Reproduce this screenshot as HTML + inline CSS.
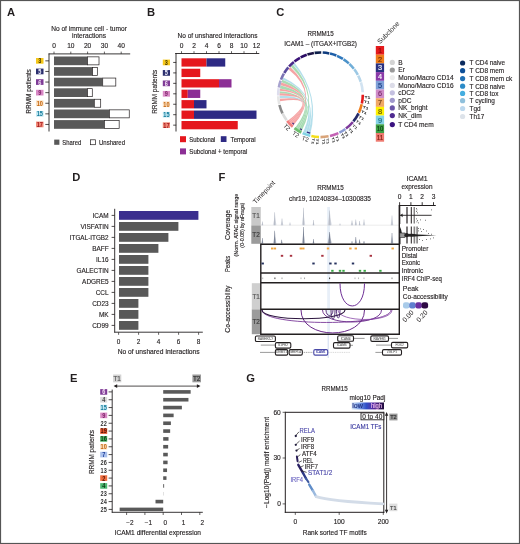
<!DOCTYPE html>
<html><head><meta charset="utf-8"><style>
html,body{margin:0;padding:0;background:#fff;}
#f{position:relative;width:520px;height:544px;overflow:hidden;background:#fff;}
svg{position:absolute;left:0;top:0;will-change:transform;}
svg text{font-family:"Liberation Sans", sans-serif;}
</style></head><body><div id="f">
<svg width="520" height="544" viewBox="0 0 520 544" font-family="Liberation Sans, sans-serif" fill="#231f20">
<rect x="0.5" y="0.5" width="519" height="543" fill="#fff" stroke="#555" stroke-width="1.2"/>
<text x="7.00" y="16.20" font-size="11.2" font-weight="bold">A</text>
<text x="89.00" y="30.70" font-size="6.7" text-anchor="middle" stroke="#231f20" stroke-width="0.14" textLength="75.7" lengthAdjust="spacingAndGlyphs">No of immune cell - tumor</text>
<text x="89.00" y="37.80" font-size="6.7" text-anchor="middle" stroke="#231f20" stroke-width="0.14" textLength="34" lengthAdjust="spacingAndGlyphs">interactions</text>
<text x="54.00" y="48.00" font-size="6.6" text-anchor="middle" stroke="#231f20" stroke-width="0.14">0</text>
<line x1="54.00" y1="51.60" x2="54.00" y2="53.90" stroke="#231f20" stroke-width="0.7"/>
<text x="70.80" y="48.00" font-size="6.6" text-anchor="middle" stroke="#231f20" stroke-width="0.14">10</text>
<line x1="70.80" y1="51.60" x2="70.80" y2="53.90" stroke="#231f20" stroke-width="0.7"/>
<text x="87.60" y="48.00" font-size="6.6" text-anchor="middle" stroke="#231f20" stroke-width="0.14">20</text>
<line x1="87.60" y1="51.60" x2="87.60" y2="53.90" stroke="#231f20" stroke-width="0.7"/>
<text x="104.40" y="48.00" font-size="6.6" text-anchor="middle" stroke="#231f20" stroke-width="0.14">30</text>
<line x1="104.40" y1="51.60" x2="104.40" y2="53.90" stroke="#231f20" stroke-width="0.7"/>
<text x="121.20" y="48.00" font-size="6.6" text-anchor="middle" stroke="#231f20" stroke-width="0.14">40</text>
<line x1="121.20" y1="51.60" x2="121.20" y2="53.90" stroke="#231f20" stroke-width="0.7"/>
<line x1="48.60" y1="53.90" x2="130.20" y2="53.90" stroke="#231f20" stroke-width="0.9"/>
<line x1="49.00" y1="53.50" x2="49.00" y2="131.50" stroke="#231f20" stroke-width="0.9"/>
<rect x="54.00" y="56.50" width="33.60" height="8.70" fill="#595959"/>
<rect x="87.60" y="56.85" width="11.41" height="8.00" fill="#fff" stroke="#231f20" stroke-width="0.7"/>
<line x1="45.30" y1="60.85" x2="49.00" y2="60.85" stroke="#231f20" stroke-width="0.8"/>
<rect x="36.00" y="58.00" width="7.50" height="5.70" fill="#f6c81a"/>
<text x="39.75" y="63.41" font-size="7.2" text-anchor="middle" fill="#4a3a00" font-weight="bold" textLength="3.1" lengthAdjust="spacingAndGlyphs">3</text>
<rect x="54.00" y="67.10" width="38.64" height="8.70" fill="#595959"/>
<rect x="92.64" y="67.45" width="4.69" height="8.00" fill="#fff" stroke="#231f20" stroke-width="0.7"/>
<line x1="45.30" y1="71.45" x2="49.00" y2="71.45" stroke="#231f20" stroke-width="0.8"/>
<rect x="36.00" y="68.60" width="7.50" height="5.70" fill="#2b2f6e"/>
<text x="39.75" y="74.01" font-size="7.2" text-anchor="middle" fill="#f4f4ff" font-weight="bold" textLength="3.1" lengthAdjust="spacingAndGlyphs">5</text>
<rect x="54.00" y="77.70" width="48.72" height="8.70" fill="#595959"/>
<rect x="102.72" y="78.05" width="13.09" height="8.00" fill="#fff" stroke="#231f20" stroke-width="0.7"/>
<line x1="45.30" y1="82.05" x2="49.00" y2="82.05" stroke="#231f20" stroke-width="0.8"/>
<rect x="36.00" y="79.20" width="7.50" height="5.70" fill="#7e3b96"/>
<text x="39.75" y="84.61" font-size="7.2" text-anchor="middle" fill="#f6e2f6" font-weight="bold" textLength="3.1" lengthAdjust="spacingAndGlyphs">6</text>
<rect x="54.00" y="88.30" width="33.60" height="8.70" fill="#595959"/>
<rect x="87.60" y="88.65" width="4.69" height="8.00" fill="#fff" stroke="#231f20" stroke-width="0.7"/>
<line x1="45.30" y1="92.65" x2="49.00" y2="92.65" stroke="#231f20" stroke-width="0.8"/>
<rect x="36.00" y="89.80" width="7.50" height="5.70" fill="#d98ac6"/>
<text x="39.75" y="95.21" font-size="7.2" text-anchor="middle" fill="#7a1f66" font-weight="bold" textLength="3.1" lengthAdjust="spacingAndGlyphs">9</text>
<rect x="54.00" y="98.90" width="40.32" height="8.70" fill="#595959"/>
<rect x="94.32" y="99.25" width="6.37" height="8.00" fill="#fff" stroke="#231f20" stroke-width="0.7"/>
<line x1="45.30" y1="103.25" x2="49.00" y2="103.25" stroke="#231f20" stroke-width="0.8"/>
<rect x="36.00" y="100.40" width="7.50" height="5.70" fill="#fbe0c0"/>
<text x="39.75" y="105.81" font-size="7.2" text-anchor="middle" fill="#c4650e" font-weight="bold" textLength="6.2" lengthAdjust="spacingAndGlyphs">10</text>
<rect x="54.00" y="109.50" width="55.44" height="8.70" fill="#595959"/>
<rect x="109.44" y="109.85" width="19.81" height="8.00" fill="#fff" stroke="#231f20" stroke-width="0.7"/>
<line x1="45.30" y1="113.85" x2="49.00" y2="113.85" stroke="#231f20" stroke-width="0.8"/>
<rect x="36.00" y="111.00" width="7.50" height="5.70" fill="#c4e9f3"/>
<text x="39.75" y="116.41" font-size="7.2" text-anchor="middle" fill="#137a9a" font-weight="bold" textLength="6.2" lengthAdjust="spacingAndGlyphs">15</text>
<rect x="54.00" y="120.10" width="50.40" height="8.70" fill="#595959"/>
<rect x="104.40" y="120.45" width="14.77" height="8.00" fill="#fff" stroke="#231f20" stroke-width="0.7"/>
<line x1="45.30" y1="124.45" x2="49.00" y2="124.45" stroke="#231f20" stroke-width="0.8"/>
<rect x="36.00" y="121.60" width="7.50" height="5.70" fill="#f08a78"/>
<text x="39.75" y="127.01" font-size="7.2" text-anchor="middle" fill="#a3161a" font-weight="bold" textLength="6.2" lengthAdjust="spacingAndGlyphs">17</text>
<text x="30.90" y="91.40" font-size="6.4" text-anchor="middle" stroke="#231f20" stroke-width="0.14" transform="rotate(-90 30.90 91.40)" textLength="44.5" lengthAdjust="spacingAndGlyphs">RRMM patients</text>
<rect x="54.20" y="139.60" width="5.20" height="5.20" fill="#595959"/>
<text x="62.30" y="144.60" font-size="6.6" stroke="#231f20" stroke-width="0.14" textLength="19" lengthAdjust="spacingAndGlyphs">Shared</text>
<rect x="90.60" y="139.80" width="5.00" height="4.90" fill="#fff" stroke="#231f20" stroke-width="0.7"/>
<text x="99.00" y="144.60" font-size="6.6" stroke="#231f20" stroke-width="0.14" textLength="26" lengthAdjust="spacingAndGlyphs">Unshared</text>
<text x="147.00" y="16.20" font-size="11.2" font-weight="bold">B</text>
<text x="217.50" y="37.60" font-size="6.7" text-anchor="middle" stroke="#231f20" stroke-width="0.14" textLength="80" lengthAdjust="spacingAndGlyphs">No of unshared interactions</text>
<text x="181.50" y="48.00" font-size="6.6" text-anchor="middle" stroke="#231f20" stroke-width="0.14">0</text>
<line x1="181.50" y1="51.20" x2="181.50" y2="53.50" stroke="#231f20" stroke-width="0.7"/>
<text x="194.00" y="48.00" font-size="6.6" text-anchor="middle" stroke="#231f20" stroke-width="0.14">2</text>
<line x1="194.00" y1="51.20" x2="194.00" y2="53.50" stroke="#231f20" stroke-width="0.7"/>
<text x="206.50" y="48.00" font-size="6.6" text-anchor="middle" stroke="#231f20" stroke-width="0.14">4</text>
<line x1="206.50" y1="51.20" x2="206.50" y2="53.50" stroke="#231f20" stroke-width="0.7"/>
<text x="219.00" y="48.00" font-size="6.6" text-anchor="middle" stroke="#231f20" stroke-width="0.14">6</text>
<line x1="219.00" y1="51.20" x2="219.00" y2="53.50" stroke="#231f20" stroke-width="0.7"/>
<text x="231.50" y="48.00" font-size="6.6" text-anchor="middle" stroke="#231f20" stroke-width="0.14">8</text>
<line x1="231.50" y1="51.20" x2="231.50" y2="53.50" stroke="#231f20" stroke-width="0.7"/>
<text x="244.00" y="48.00" font-size="6.6" text-anchor="middle" stroke="#231f20" stroke-width="0.14">10</text>
<line x1="244.00" y1="51.20" x2="244.00" y2="53.50" stroke="#231f20" stroke-width="0.7"/>
<text x="256.50" y="48.00" font-size="6.6" text-anchor="middle" stroke="#231f20" stroke-width="0.14">12</text>
<line x1="256.50" y1="51.20" x2="256.50" y2="53.50" stroke="#231f20" stroke-width="0.7"/>
<line x1="175.20" y1="53.50" x2="259.30" y2="53.50" stroke="#231f20" stroke-width="0.9"/>
<line x1="176.00" y1="53.10" x2="176.00" y2="131.50" stroke="#231f20" stroke-width="0.9"/>
<rect x="181.50" y="58.30" width="25.00" height="8.30" fill="#e5171d"/>
<rect x="206.50" y="58.30" width="18.75" height="8.30" fill="#2e2a84"/>
<line x1="173.20" y1="62.45" x2="176.20" y2="62.45" stroke="#231f20" stroke-width="0.8"/>
<rect x="162.80" y="59.60" width="7.20" height="5.70" fill="#f6c81a"/>
<text x="166.40" y="65.01" font-size="7.2" text-anchor="middle" fill="#4a3a00" font-weight="bold" textLength="3.1" lengthAdjust="spacingAndGlyphs">3</text>
<rect x="181.50" y="68.75" width="18.75" height="8.30" fill="#e5171d"/>
<line x1="173.20" y1="72.90" x2="176.20" y2="72.90" stroke="#231f20" stroke-width="0.8"/>
<rect x="162.80" y="70.05" width="7.20" height="5.70" fill="#2b2f6e"/>
<text x="166.40" y="75.46" font-size="7.2" text-anchor="middle" fill="#f4f4ff" font-weight="bold" textLength="3.1" lengthAdjust="spacingAndGlyphs">5</text>
<rect x="181.50" y="79.20" width="37.50" height="8.30" fill="#e5171d"/>
<rect x="219.00" y="79.20" width="12.50" height="8.30" fill="#8c2f95"/>
<line x1="173.20" y1="83.35" x2="176.20" y2="83.35" stroke="#231f20" stroke-width="0.8"/>
<rect x="162.80" y="80.50" width="7.20" height="5.70" fill="#7e3b96"/>
<text x="166.40" y="85.91" font-size="7.2" text-anchor="middle" fill="#f6e2f6" font-weight="bold" textLength="3.1" lengthAdjust="spacingAndGlyphs">6</text>
<rect x="181.50" y="89.65" width="6.25" height="8.30" fill="#e5171d"/>
<rect x="187.75" y="89.65" width="12.50" height="8.30" fill="#8c2f95"/>
<line x1="173.20" y1="93.80" x2="176.20" y2="93.80" stroke="#231f20" stroke-width="0.8"/>
<rect x="162.80" y="90.95" width="7.20" height="5.70" fill="#d98ac6"/>
<text x="166.40" y="96.36" font-size="7.2" text-anchor="middle" fill="#7a1f66" font-weight="bold" textLength="3.1" lengthAdjust="spacingAndGlyphs">9</text>
<rect x="181.50" y="100.10" width="12.50" height="8.30" fill="#e5171d"/>
<rect x="194.00" y="100.10" width="12.50" height="8.30" fill="#2e2a84"/>
<line x1="173.20" y1="104.25" x2="176.20" y2="104.25" stroke="#231f20" stroke-width="0.8"/>
<rect x="162.80" y="101.40" width="7.20" height="5.70" fill="#fbe0c0"/>
<text x="166.40" y="106.81" font-size="7.2" text-anchor="middle" fill="#c4650e" font-weight="bold" textLength="6.2" lengthAdjust="spacingAndGlyphs">10</text>
<rect x="181.50" y="110.55" width="12.50" height="8.30" fill="#e5171d"/>
<rect x="194.00" y="110.55" width="62.50" height="8.30" fill="#2e2a84"/>
<line x1="173.20" y1="114.70" x2="176.20" y2="114.70" stroke="#231f20" stroke-width="0.8"/>
<rect x="162.80" y="111.85" width="7.20" height="5.70" fill="#c4e9f3"/>
<text x="166.40" y="117.26" font-size="7.2" text-anchor="middle" fill="#137a9a" font-weight="bold" textLength="6.2" lengthAdjust="spacingAndGlyphs">15</text>
<rect x="181.50" y="121.00" width="56.25" height="8.30" fill="#e5171d"/>
<line x1="173.20" y1="125.15" x2="176.20" y2="125.15" stroke="#231f20" stroke-width="0.8"/>
<rect x="162.80" y="122.30" width="7.20" height="5.70" fill="#f08a78"/>
<text x="166.40" y="127.71" font-size="7.2" text-anchor="middle" fill="#a3161a" font-weight="bold" textLength="6.2" lengthAdjust="spacingAndGlyphs">17</text>
<text x="157.00" y="91.80" font-size="6.4" text-anchor="middle" stroke="#231f20" stroke-width="0.14" transform="rotate(-90 157.00 91.80)" textLength="44" lengthAdjust="spacingAndGlyphs">RRMM patients</text>
<rect x="180.00" y="136.20" width="6.00" height="6.00" fill="#e5171d"/>
<text x="189.30" y="141.60" font-size="6.6" stroke="#231f20" stroke-width="0.14" textLength="26" lengthAdjust="spacingAndGlyphs">Subclonal</text>
<rect x="220.80" y="136.20" width="5.70" height="5.80" fill="#2e2a84"/>
<text x="230.60" y="141.60" font-size="6.6" stroke="#231f20" stroke-width="0.14" textLength="25" lengthAdjust="spacingAndGlyphs">Temporal</text>
<rect x="180.00" y="148.40" width="6.00" height="6.00" fill="#8c2f95"/>
<text x="189.30" y="153.80" font-size="6.6" stroke="#231f20" stroke-width="0.14" textLength="58" lengthAdjust="spacingAndGlyphs">Subclonal + temporal</text>
<text x="276.20" y="16.20" font-size="11.2" font-weight="bold">C</text>
<text x="320.60" y="36.00" font-size="6.7" text-anchor="middle" stroke="#231f20" stroke-width="0.14" textLength="26.4" lengthAdjust="spacingAndGlyphs">RRMM15</text>
<text x="320.60" y="46.00" font-size="6.7" text-anchor="middle" stroke="#231f20" stroke-width="0.14" textLength="72.6" lengthAdjust="spacingAndGlyphs">ICAM1 – (ITGAX+ITGB2)</text>
<path d="M293.07,64.33 A41.0,41.0 0 0 1 294.70,62.94 Q320.50,94.80 310.23,134.49 A41.0,41.0 0 0 1 307.83,133.79 Q320.50,94.80 293.07,64.33Z" fill="#9fd6e6" fill-opacity="0.78" stroke="none"/>
<path d="M282.49,79.44 A41.0,41.0 0 0 1 283.34,77.47 Q320.50,94.80 307.83,133.79 A41.0,41.0 0 0 1 305.47,132.95 Q320.50,94.80 282.49,79.44Z" fill="#9fd6e6" fill-opacity="0.78" stroke="none"/>
<path d="M279.66,98.37 A41.0,41.0 0 0 1 279.51,95.87 Q320.50,94.80 305.47,132.95 A41.0,41.0 0 0 1 303.17,131.96 Q320.50,94.80 279.66,98.37Z" fill="#9fd6e6" fill-opacity="0.78" stroke="none"/>
<path d="M290.76,66.58 A41.0,41.0 0 0 1 292.80,64.57 Q320.50,94.80 301.57,131.17 A41.0,41.0 0 0 1 300.00,130.31 Q320.50,94.80 290.76,66.58Z" fill="#8fd19e" fill-opacity="0.78" stroke="none"/>
<path d="M281.51,82.13 A41.0,41.0 0 0 1 282.35,79.77 Q320.50,94.80 300.00,130.31 A41.0,41.0 0 0 1 298.47,129.38 Q320.50,94.80 281.51,82.13Z" fill="#8fd19e" fill-opacity="0.78" stroke="none"/>
<path d="M280.00,88.39 A41.0,41.0 0 0 1 280.55,85.58 Q320.50,94.80 298.47,129.38 A41.0,41.0 0 0 1 296.98,128.39 Q320.50,94.80 280.00,88.39Z" fill="#8fd19e" fill-opacity="0.78" stroke="none"/>
<path d="M279.52,93.37 A41.0,41.0 0 0 1 279.66,91.23 Q320.50,94.80 296.98,128.39 A41.0,41.0 0 0 1 295.54,127.33 Q320.50,94.80 279.52,93.37Z" fill="#8fd19e" fill-opacity="0.78" stroke="none"/>
<path d="M288.41,69.28 A41.0,41.0 0 0 1 290.27,67.10 Q320.50,94.80 293.33,125.51 A41.0,41.0 0 0 1 292.28,124.54 Q320.50,94.80 288.41,69.28Z" fill="#f28b8b" fill-opacity="0.78" stroke="none"/>
<path d="M280.63,85.23 A41.0,41.0 0 0 1 281.40,82.47 Q320.50,94.80 292.28,124.54 A41.0,41.0 0 0 1 291.26,123.54 Q320.50,94.80 280.63,85.23Z" fill="#f28b8b" fill-opacity="0.78" stroke="none"/>
<path d="M279.69,90.87 A41.0,41.0 0 0 1 279.95,88.74 Q320.50,94.80 291.26,123.54 A41.0,41.0 0 0 1 290.27,122.50 Q320.50,94.80 279.69,90.87Z" fill="#f28b8b" fill-opacity="0.78" stroke="none"/>
<path d="M279.51,95.52 A41.0,41.0 0 0 1 279.52,93.37 Q320.50,94.80 290.27,122.50 A41.0,41.0 0 0 1 289.32,121.43 Q320.50,94.80 279.51,95.52Z" fill="#f28b8b" fill-opacity="0.78" stroke="none"/>
<path d="M280.00,101.21 A41.0,41.0 0 0 1 279.69,98.73 Q320.50,94.80 289.32,121.43 A41.0,41.0 0 0 1 288.41,120.32 Q320.50,94.80 280.00,101.21Z" fill="#f28b8b" fill-opacity="0.78" stroke="none"/>
<path d="M362.80,94.80 A42.3,42.3 0 0 1 361.88,103.59" fill="none" stroke="#e41a1c" stroke-width="2.6"/>
<path d="M361.72,104.32 A42.3,42.3 0 0 1 358.84,112.68" fill="none" stroke="#f07d1a" stroke-width="2.6"/>
<path d="M358.52,113.34 A42.3,42.3 0 0 1 353.37,121.42" fill="none" stroke="#252a6a" stroke-width="2.6"/>
<path d="M352.90,121.99 A42.3,42.3 0 0 1 345.96,128.58" fill="none" stroke="#7e3a9c" stroke-width="2.6"/>
<path d="M345.36,129.02 A42.3,42.3 0 0 1 339.37,132.66" fill="none" stroke="#8a9cd4" stroke-width="2.6"/>
<path d="M338.38,133.14 A42.3,42.3 0 0 1 330.02,136.02" fill="none" stroke="#c462b4" stroke-width="2.6"/>
<path d="M328.57,136.32 A42.3,42.3 0 0 1 320.50,137.10" fill="none" stroke="#d9a479" stroke-width="2.6"/>
<path d="M319.02,137.07 A42.3,42.3 0 0 1 311.34,136.10" fill="none" stroke="#f5df1c" stroke-width="2.6"/>
<path d="M310.27,135.84 A42.3,42.3 0 0 1 302.62,133.14" fill="none" stroke="#82d3e3" stroke-width="2.6"/>
<path d="M301.30,132.49 A42.3,42.3 0 0 1 294.46,128.13" fill="none" stroke="#6fc06f" stroke-width="2.6"/>
<path d="M292.75,126.72 A42.3,42.3 0 0 1 287.17,120.84" fill="none" stroke="#f08080" stroke-width="2.6"/>
<path d="M286.72,120.26 A42.3,42.3 0 0 1 282.64,113.67" fill="none" stroke="#dcdcdc" stroke-width="2.6"/>
<path d="M282.48,113.34 A42.3,42.3 0 0 1 279.46,105.03" fill="none" stroke="#8a8a8a" stroke-width="2.6"/>
<path d="M279.28,104.32 A42.3,42.3 0 0 1 278.23,96.28" fill="none" stroke="#e6e6e6" stroke-width="2.6"/>
<path d="M278.21,95.54 A42.3,42.3 0 0 1 278.72,88.18" fill="none" stroke="#dddded" stroke-width="2.6"/>
<path d="M278.84,87.45 A42.3,42.3 0 0 1 280.63,80.68" fill="none" stroke="#a8a3cf" stroke-width="2.6"/>
<path d="M281.01,79.64 A42.3,42.3 0 0 1 283.87,73.65" fill="none" stroke="#7b74b4" stroke-width="2.6"/>
<path d="M284.24,73.01 A42.3,42.3 0 0 1 288.33,67.33" fill="none" stroke="#5a4c9e" stroke-width="2.6"/>
<path d="M289.06,66.50 A42.3,42.3 0 0 1 293.88,61.93" fill="none" stroke="#4a2a8a" stroke-width="2.6"/>
<path d="M294.46,61.47 A42.3,42.3 0 0 1 299.99,57.80" fill="none" stroke="#3b1478" stroke-width="2.6"/>
<path d="M300.64,57.45 A42.3,42.3 0 0 1 306.73,54.80" fill="none" stroke="#2b0c64" stroke-width="2.6"/>
<path d="M307.43,54.57 A42.3,42.3 0 0 1 313.88,53.02" fill="none" stroke="#1c1545" stroke-width="2.6"/>
<path d="M314.61,52.91 A42.3,42.3 0 0 1 321.24,52.51" fill="none" stroke="#0d1f4a" stroke-width="2.6"/>
<path d="M322.71,52.56 A42.3,42.3 0 0 1 329.29,53.42" fill="none" stroke="#0e3b7d" stroke-width="2.6"/>
<path d="M330.02,53.58 A42.3,42.3 0 0 1 336.35,55.58" fill="none" stroke="#1d5ea8" stroke-width="2.6"/>
<path d="M337.03,55.86 A42.3,42.3 0 0 1 342.92,58.93" fill="none" stroke="#2f78bd" stroke-width="2.6"/>
<path d="M343.54,59.32 A42.3,42.3 0 0 1 348.80,63.36" fill="none" stroke="#4b92c9" stroke-width="2.6"/>
<path d="M349.35,63.86 A42.3,42.3 0 0 1 353.83,68.76" fill="none" stroke="#70aed8" stroke-width="2.6"/>
<path d="M354.28,69.34 A42.3,42.3 0 0 1 357.85,74.94" fill="none" stroke="#9cc8e4" stroke-width="2.6"/>
<path d="M358.19,75.60 A42.3,42.3 0 0 1 360.73,81.73" fill="none" stroke="#b7d6ea" stroke-width="2.6"/>
<path d="M360.95,82.43 A42.3,42.3 0 0 1 362.72,92.22" fill="none" stroke="#d2e3f1" stroke-width="2.6"/>
<path d="M293.94,124.30 A39.699999999999996,39.699999999999996 0 0 1 292.43,122.87" fill="none" stroke="#3b2a80" stroke-width="1.2"/>
<path d="M301.86,129.85 A39.699999999999996,39.699999999999996 0 0 1 300.05,128.83" fill="none" stroke="#3b2a80" stroke-width="1.2"/>
<path d="M310.22,133.15 A39.699999999999996,39.699999999999996 0 0 1 306.92,132.11" fill="none" stroke="#2e2a84" stroke-width="1.2"/>
<text x="0" y="0" font-size="4.4" fill="#222" stroke="#222" stroke-width="0.15" transform="translate(364.44,97.10) rotate(3.0) scale(1.15,0.72) translate(0,1.6)">T1</text>
<text x="0" y="0" font-size="4.4" fill="#222" stroke="#222" stroke-width="0.15" transform="translate(363.96,101.68) rotate(9.0) scale(1.15,0.72) translate(0,1.6)">T1</text>
<text x="0" y="0" font-size="4.4" fill="#222" stroke="#222" stroke-width="0.15" transform="translate(362.80,106.93) rotate(16.0) scale(1.15,0.72) translate(0,1.6)">T1</text>
<text x="0" y="0" font-size="4.4" fill="#222" stroke="#222" stroke-width="0.15" transform="translate(361.30,111.28) rotate(22.0) scale(1.15,0.72) translate(0,1.6)">T1</text>
<text x="0" y="0" font-size="4.4" fill="#222" stroke="#222" stroke-width="0.15" transform="translate(358.80,116.47) rotate(29.5) scale(1.15,0.72) translate(0,1.6)">T1</text>
<text x="0" y="0" font-size="4.4" fill="#222" stroke="#222" stroke-width="0.15" transform="translate(356.10,120.66) rotate(36.0) scale(1.15,0.72) translate(0,1.6)">T1</text>
<text x="0" y="0" font-size="4.4" fill="#222" stroke="#222" stroke-width="0.15" transform="translate(352.68,124.81) rotate(43.0) scale(1.15,0.72) translate(0,1.6)">T1</text>
<text x="0" y="0" font-size="4.4" fill="#222" stroke="#222" stroke-width="0.15" transform="translate(348.78,128.51) rotate(50.0) scale(1.15,0.72) translate(0,1.6)">T1</text>
<text x="0" y="0" font-size="4.4" fill="#222" stroke="#222" stroke-width="0.15" transform="translate(344.79,131.49) rotate(56.5) scale(1.15,0.72) translate(0,1.6)">T1</text>
<text x="0" y="0" font-size="4.4" fill="#222" stroke="#222" stroke-width="0.15" transform="translate(341.49,133.47) rotate(61.5) scale(1.15,0.72) translate(0,1.6)">T1</text>
<text x="0" y="0" font-size="4.4" fill="#222" stroke="#222" stroke-width="0.15" transform="translate(336.27,135.88) rotate(69.0) scale(1.15,0.72) translate(0,1.6)">T1</text>
<text x="0" y="0" font-size="4.4" fill="#222" stroke="#222" stroke-width="0.15" transform="translate(332.63,137.10) rotate(74.0) scale(1.15,0.72) translate(0,1.6)">T1</text>
<text x="0" y="0" font-size="4.4" fill="#222" stroke="#222" stroke-width="0.15" transform="translate(327.08,138.31) rotate(81.4) scale(1.15,0.72) translate(0,1.6)">T1</text>
<text x="0" y="0" font-size="4.4" fill="#222" stroke="#222" stroke-width="0.15" transform="translate(323.49,138.70) rotate(86.1) scale(1.15,0.72) translate(0,1.6)">T1</text>
<text x="0" y="0" font-size="4.4" fill="#222" stroke="#222" stroke-width="0.15" transform="translate(317.51,138.70) rotate(93.9) scale(1.15,0.72) translate(0,1.6)">T1</text>
<text x="0" y="0" font-size="4.4" fill="#222" stroke="#222" stroke-width="0.15" transform="translate(313.69,138.27) rotate(98.9) scale(1.15,0.72) translate(0,1.6)">T1</text>
<text x="0" y="0" font-size="6.0" fill="#2a2a2a" text-anchor="middle" transform="translate(305.31,138.92) rotate(19.0) translate(0,2.16)">T2</text>
<text x="0" y="0" font-size="6.0" fill="#2a2a2a" text-anchor="middle" transform="translate(295.77,134.37) rotate(32.0) translate(0,2.16)">T2</text>
<text x="0" y="0" font-size="6.0" fill="#2a2a2a" text-anchor="middle" transform="translate(286.94,127.21) rotate(46.0) translate(0,2.16)">T2</text>
<text x="0" y="0" font-size="6.8" fill="#333" transform="translate(380.0,44.2) rotate(-45)">Subclone</text>
<rect x="375.80" y="46.00" width="8.30" height="8.70" fill="#e41a1c"/>
<text x="380.00" y="52.90" font-size="7.4" text-anchor="middle" fill="#8a0a0c" stroke="#8a0a0c" stroke-width="0.14">1</text>
<rect x="375.80" y="54.70" width="8.30" height="8.70" fill="#f07d1a"/>
<text x="380.00" y="61.60" font-size="7.4" text-anchor="middle" fill="#6a2a00" stroke="#6a2a00" stroke-width="0.14">2</text>
<rect x="375.80" y="63.40" width="8.30" height="8.70" fill="#2a3180"/>
<text x="380.00" y="70.30" font-size="7.4" text-anchor="middle" fill="#ffffff" stroke="#ffffff" stroke-width="0.14">3</text>
<rect x="375.80" y="72.10" width="8.30" height="8.70" fill="#8a3aa8"/>
<text x="380.00" y="79.00" font-size="7.4" text-anchor="middle" fill="#ffffff" stroke="#ffffff" stroke-width="0.14">4</text>
<rect x="375.80" y="80.80" width="8.30" height="8.70" fill="#7fa0d8"/>
<text x="380.00" y="87.70" font-size="7.4" text-anchor="middle" fill="#1a3a80" stroke="#1a3a80" stroke-width="0.14">5</text>
<rect x="375.80" y="89.50" width="8.30" height="8.70" fill="#cf8cc8"/>
<text x="380.00" y="96.40" font-size="7.4" text-anchor="middle" fill="#7a2a6a" stroke="#7a2a6a" stroke-width="0.14">6</text>
<rect x="375.80" y="98.20" width="8.30" height="8.70" fill="#f0a866"/>
<text x="380.00" y="105.10" font-size="7.4" text-anchor="middle" fill="#6a3a10" stroke="#6a3a10" stroke-width="0.14">7</text>
<rect x="375.80" y="106.90" width="8.30" height="8.70" fill="#fff200"/>
<text x="380.00" y="113.80" font-size="7.4" text-anchor="middle" fill="#5a5000" stroke="#5a5000" stroke-width="0.14">8</text>
<rect x="375.80" y="115.60" width="8.30" height="8.70" fill="#86d4e6"/>
<text x="380.00" y="122.50" font-size="7.4" text-anchor="middle" fill="#1a6a80" stroke="#1a6a80" stroke-width="0.14">9</text>
<rect x="375.80" y="124.30" width="8.30" height="8.70" fill="#3d9e44"/>
<text x="380.00" y="131.20" font-size="7.4" text-anchor="middle" fill="#0a3a10" stroke="#0a3a10" stroke-width="0.14" textLength="6.6" lengthAdjust="spacingAndGlyphs">10</text>
<rect x="375.80" y="133.00" width="8.30" height="8.70" fill="#ee7a70"/>
<text x="380.00" y="139.90" font-size="7.4" text-anchor="middle" fill="#7a1a10" stroke="#7a1a10" stroke-width="0.14" textLength="6.6" lengthAdjust="spacingAndGlyphs">11</text>
<circle cx="392.3" cy="62.40" r="2.6" fill="#d4d4d4"/>
<text x="398.30" y="64.80" font-size="6.9" stroke="#231f20" stroke-width="0.14" textLength="4.4" lengthAdjust="spacingAndGlyphs">B</text>
<circle cx="392.3" cy="70.00" r="2.6" fill="#999999"/>
<text x="398.30" y="72.40" font-size="6.9" stroke="#231f20" stroke-width="0.14" textLength="6.59" lengthAdjust="spacingAndGlyphs">Er</text>
<circle cx="392.3" cy="77.60" r="2.6" fill="#ececec"/>
<text x="398.30" y="80.00" font-size="6.9" stroke="#231f20" stroke-width="0.14" textLength="55.3" lengthAdjust="spacingAndGlyphs">Mono/Macro CD14</text>
<circle cx="392.3" cy="85.40" r="2.6" fill="#dcdce8"/>
<text x="398.30" y="87.80" font-size="6.9" stroke="#231f20" stroke-width="0.14" textLength="55.3" lengthAdjust="spacingAndGlyphs">Mono/Macro CD16</text>
<circle cx="392.3" cy="92.80" r="2.6" fill="#c4c0e0"/>
<text x="398.30" y="95.20" font-size="6.9" stroke="#231f20" stroke-width="0.14" textLength="16.48" lengthAdjust="spacingAndGlyphs">cDC2</text>
<circle cx="392.3" cy="100.30" r="2.6" fill="#a098cc"/>
<text x="398.30" y="102.70" font-size="6.9" stroke="#231f20" stroke-width="0.14" textLength="13.18" lengthAdjust="spacingAndGlyphs">pDC</text>
<circle cx="392.3" cy="107.90" r="2.6" fill="#6b56a8"/>
<text x="398.30" y="110.30" font-size="6.9" stroke="#231f20" stroke-width="0.14" textLength="29.3" lengthAdjust="spacingAndGlyphs">NK_bright</text>
<circle cx="392.3" cy="115.60" r="2.6" fill="#4e2a90"/>
<text x="398.30" y="118.00" font-size="6.9" stroke="#231f20" stroke-width="0.14" textLength="23.44" lengthAdjust="spacingAndGlyphs">NK_dim</text>
<circle cx="392.3" cy="124.60" r="2.6" fill="#3a1280"/>
<text x="398.30" y="127.00" font-size="6.9" stroke="#231f20" stroke-width="0.14" textLength="35.39" lengthAdjust="spacingAndGlyphs">T CD4 mem</text>
<circle cx="462.6" cy="63.00" r="2.6" fill="#0b2a5e"/>
<text x="469.60" y="65.40" font-size="6.9" stroke="#231f20" stroke-width="0.14" textLength="35.55" lengthAdjust="spacingAndGlyphs">T CD4 naive</text>
<circle cx="462.6" cy="70.70" r="2.6" fill="#0d4f98"/>
<text x="469.60" y="73.10" font-size="6.9" stroke="#231f20" stroke-width="0.14" textLength="34.47" lengthAdjust="spacingAndGlyphs">T CD8 mem</text>
<circle cx="462.6" cy="78.60" r="2.6" fill="#1f6fb4"/>
<text x="469.60" y="81.00" font-size="6.9" stroke="#231f20" stroke-width="0.14" textLength="42.67" lengthAdjust="spacingAndGlyphs">T CD8 mem ck</text>
<circle cx="462.6" cy="86.20" r="2.6" fill="#2b8bc8"/>
<text x="469.60" y="88.60" font-size="6.9" stroke="#231f20" stroke-width="0.14" textLength="35.55" lengthAdjust="spacingAndGlyphs">T CD8 naive</text>
<circle cx="462.6" cy="93.40" r="2.6" fill="#45aee0"/>
<text x="469.60" y="95.80" font-size="6.9" stroke="#231f20" stroke-width="0.14" textLength="28.77" lengthAdjust="spacingAndGlyphs">T CD8 tox</text>
<circle cx="462.6" cy="100.70" r="2.6" fill="#8fc0dc"/>
<text x="469.60" y="103.10" font-size="6.9" stroke="#231f20" stroke-width="0.14" textLength="25.2" lengthAdjust="spacingAndGlyphs">T cycling</text>
<circle cx="462.6" cy="108.50" r="2.6" fill="#bcd8ee"/>
<text x="469.60" y="110.90" font-size="6.9" stroke="#231f20" stroke-width="0.14" textLength="11.06" lengthAdjust="spacingAndGlyphs">Tgd</text>
<circle cx="462.6" cy="116.50" r="2.6" fill="#dde3ea"/>
<text x="469.60" y="118.90" font-size="6.9" stroke="#231f20" stroke-width="0.14" textLength="14.63" lengthAdjust="spacingAndGlyphs">Th17</text>
<text x="72.30" y="181.20" font-size="11.2" font-weight="bold">D</text>
<rect x="119.00" y="211.00" width="79.40" height="8.80" fill="#3b2e8e"/>
<line x1="111.60" y1="215.40" x2="114.70" y2="215.40" stroke="#231f20" stroke-width="0.8"/>
<text x="108.60" y="217.70" font-size="6.45" text-anchor="end" stroke="#231f20" stroke-width="0.14">ICAM</text>
<rect x="119.00" y="222.00" width="59.40" height="8.80" fill="#595959"/>
<line x1="111.60" y1="226.40" x2="114.70" y2="226.40" stroke="#231f20" stroke-width="0.8"/>
<text x="108.60" y="228.70" font-size="6.45" text-anchor="end" stroke="#231f20" stroke-width="0.14">VISFATIN</text>
<rect x="119.00" y="233.00" width="49.40" height="8.80" fill="#595959"/>
<line x1="111.60" y1="237.40" x2="114.70" y2="237.40" stroke="#231f20" stroke-width="0.8"/>
<text x="108.60" y="239.70" font-size="6.45" text-anchor="end" stroke="#231f20" stroke-width="0.14" textLength="38.8" lengthAdjust="spacingAndGlyphs">ITGAL-ITGB2</text>
<rect x="119.00" y="244.00" width="39.40" height="8.80" fill="#595959"/>
<line x1="111.60" y1="248.40" x2="114.70" y2="248.40" stroke="#231f20" stroke-width="0.8"/>
<text x="108.60" y="250.70" font-size="6.45" text-anchor="end" stroke="#231f20" stroke-width="0.14">BAFF</text>
<rect x="119.00" y="255.00" width="29.40" height="8.80" fill="#595959"/>
<line x1="111.60" y1="259.40" x2="114.70" y2="259.40" stroke="#231f20" stroke-width="0.8"/>
<text x="108.60" y="261.70" font-size="6.45" text-anchor="end" stroke="#231f20" stroke-width="0.14">IL16</text>
<rect x="119.00" y="266.00" width="29.40" height="8.80" fill="#595959"/>
<line x1="111.60" y1="270.40" x2="114.70" y2="270.40" stroke="#231f20" stroke-width="0.8"/>
<text x="108.60" y="272.70" font-size="6.45" text-anchor="end" stroke="#231f20" stroke-width="0.14">GALECTIN</text>
<rect x="119.00" y="277.00" width="29.40" height="8.80" fill="#595959"/>
<line x1="111.60" y1="281.40" x2="114.70" y2="281.40" stroke="#231f20" stroke-width="0.8"/>
<text x="108.60" y="283.70" font-size="6.45" text-anchor="end" stroke="#231f20" stroke-width="0.14">ADGRE5</text>
<rect x="119.00" y="288.00" width="29.40" height="8.80" fill="#595959"/>
<line x1="111.60" y1="292.40" x2="114.70" y2="292.40" stroke="#231f20" stroke-width="0.8"/>
<text x="108.60" y="294.70" font-size="6.45" text-anchor="end" stroke="#231f20" stroke-width="0.14">CCL</text>
<rect x="119.00" y="299.00" width="19.40" height="8.80" fill="#595959"/>
<line x1="111.60" y1="303.40" x2="114.70" y2="303.40" stroke="#231f20" stroke-width="0.8"/>
<text x="108.60" y="305.70" font-size="6.45" text-anchor="end" stroke="#231f20" stroke-width="0.14">CD23</text>
<rect x="119.00" y="310.00" width="19.40" height="8.80" fill="#595959"/>
<line x1="111.60" y1="314.40" x2="114.70" y2="314.40" stroke="#231f20" stroke-width="0.8"/>
<text x="108.60" y="316.70" font-size="6.45" text-anchor="end" stroke="#231f20" stroke-width="0.14">MK</text>
<rect x="119.00" y="321.00" width="19.40" height="8.80" fill="#595959"/>
<line x1="111.60" y1="325.40" x2="114.70" y2="325.40" stroke="#231f20" stroke-width="0.8"/>
<text x="108.60" y="327.70" font-size="6.45" text-anchor="end" stroke="#231f20" stroke-width="0.14">CD99</text>
<line x1="114.70" y1="208.80" x2="114.70" y2="332.60" stroke="#231f20" stroke-width="0.9"/>
<line x1="114.30" y1="332.20" x2="202.80" y2="332.20" stroke="#231f20" stroke-width="0.9"/>
<line x1="118.60" y1="332.30" x2="118.60" y2="334.80" stroke="#231f20" stroke-width="0.7"/>
<text x="118.60" y="343.50" font-size="6.4" text-anchor="middle" stroke="#231f20" stroke-width="0.14">0</text>
<line x1="138.60" y1="332.30" x2="138.60" y2="334.80" stroke="#231f20" stroke-width="0.7"/>
<text x="138.60" y="343.50" font-size="6.4" text-anchor="middle" stroke="#231f20" stroke-width="0.14">2</text>
<line x1="158.60" y1="332.30" x2="158.60" y2="334.80" stroke="#231f20" stroke-width="0.7"/>
<text x="158.60" y="343.50" font-size="6.4" text-anchor="middle" stroke="#231f20" stroke-width="0.14">4</text>
<line x1="178.60" y1="332.30" x2="178.60" y2="334.80" stroke="#231f20" stroke-width="0.7"/>
<text x="178.60" y="343.50" font-size="6.4" text-anchor="middle" stroke="#231f20" stroke-width="0.14">6</text>
<line x1="198.60" y1="332.30" x2="198.60" y2="334.80" stroke="#231f20" stroke-width="0.7"/>
<text x="198.60" y="343.50" font-size="6.4" text-anchor="middle" stroke="#231f20" stroke-width="0.14">8</text>
<text x="158.70" y="354.30" font-size="6.6" text-anchor="middle" stroke="#231f20" stroke-width="0.14" textLength="82" lengthAdjust="spacingAndGlyphs">No of unshared interactions</text>
<text x="69.90" y="382.40" font-size="11.2" font-weight="bold">E</text>
<rect x="113.10" y="374.50" width="8.20" height="7.80" fill="#d4d4d4"/>
<text x="117.20" y="380.90" font-size="6.4" text-anchor="middle" fill="#555" stroke="#555" stroke-width="0.14">T1</text>
<rect x="192.40" y="374.50" width="8.60" height="7.80" fill="#9a9a9a"/>
<text x="196.70" y="380.90" font-size="6.4" text-anchor="middle" fill="#2a2a2a" stroke="#2a2a2a" stroke-width="0.14">T2</text>
<line x1="115.50" y1="386.10" x2="198.60" y2="386.10" stroke="#231f20" stroke-width="0.8"/>
<path d="M113.6,386.1 L117.2,384.3 L117.2,387.9 Z" fill="#231f20" stroke="none" stroke-width="0.8"/>
<path d="M200.5,386.1 L196.9,384.3 L196.9,387.9 Z" fill="#231f20" stroke="none" stroke-width="0.8"/>
<rect x="163.20" y="390.10" width="27.45" height="3.60" fill="#595959"/>
<line x1="108.60" y1="391.90" x2="112.20" y2="391.90" stroke="#231f20" stroke-width="0.8"/>
<rect x="100.20" y="389.10" width="7.00" height="5.60" fill="#7e3b96"/>
<text x="103.70" y="394.31" font-size="6.8" text-anchor="middle" fill="#f6e2f6" font-weight="bold" textLength="3.1" lengthAdjust="spacingAndGlyphs">6</text>
<rect x="163.20" y="397.93" width="25.25" height="3.60" fill="#595959"/>
<line x1="108.60" y1="399.73" x2="112.20" y2="399.73" stroke="#231f20" stroke-width="0.8"/>
<rect x="100.20" y="396.93" width="7.00" height="5.60" fill="#dadada"/>
<text x="103.70" y="402.15" font-size="6.8" text-anchor="middle" fill="#444444" font-weight="bold" textLength="3.1" lengthAdjust="spacingAndGlyphs">4</text>
<rect x="163.20" y="405.77" width="18.67" height="3.60" fill="#595959"/>
<line x1="108.60" y1="407.57" x2="112.20" y2="407.57" stroke="#231f20" stroke-width="0.8"/>
<rect x="100.20" y="404.77" width="7.00" height="5.60" fill="#c4e9f3"/>
<text x="103.70" y="409.98" font-size="6.8" text-anchor="middle" fill="#137a9a" font-weight="bold" textLength="6.2" lengthAdjust="spacingAndGlyphs">15</text>
<rect x="163.20" y="413.60" width="10.43" height="3.60" fill="#595959"/>
<line x1="108.60" y1="415.40" x2="112.20" y2="415.40" stroke="#231f20" stroke-width="0.8"/>
<rect x="100.20" y="412.60" width="7.00" height="5.60" fill="#d98ac6"/>
<text x="103.70" y="417.82" font-size="6.8" text-anchor="middle" fill="#7a1f66" font-weight="bold" textLength="3.1" lengthAdjust="spacingAndGlyphs">9</text>
<rect x="163.20" y="421.44" width="7.69" height="3.60" fill="#595959"/>
<line x1="108.60" y1="423.24" x2="112.20" y2="423.24" stroke="#231f20" stroke-width="0.8"/>
<text x="103.70" y="425.64" font-size="6.8" text-anchor="middle" fill="#333" font-weight="bold" textLength="6.2" lengthAdjust="spacingAndGlyphs">22</text>
<rect x="163.20" y="429.27" width="6.95" height="3.60" fill="#595959"/>
<line x1="108.60" y1="431.07" x2="112.20" y2="431.07" stroke="#231f20" stroke-width="0.8"/>
<rect x="100.20" y="428.27" width="7.00" height="5.60" fill="#e8562e"/>
<text x="103.70" y="433.49" font-size="6.8" text-anchor="middle" fill="#4a1004" font-weight="bold" textLength="6.2" lengthAdjust="spacingAndGlyphs">19</text>
<rect x="163.20" y="437.11" width="5.31" height="3.60" fill="#595959"/>
<line x1="108.60" y1="438.91" x2="112.20" y2="438.91" stroke="#231f20" stroke-width="0.8"/>
<rect x="100.20" y="436.11" width="7.00" height="5.60" fill="#46b060"/>
<text x="103.70" y="441.32" font-size="6.8" text-anchor="middle" fill="#0a3a14" font-weight="bold" textLength="6.2" lengthAdjust="spacingAndGlyphs">16</text>
<rect x="163.20" y="444.94" width="4.94" height="3.60" fill="#595959"/>
<line x1="108.60" y1="446.75" x2="112.20" y2="446.75" stroke="#231f20" stroke-width="0.8"/>
<rect x="100.20" y="443.94" width="7.00" height="5.60" fill="#fbe0c0"/>
<text x="103.70" y="449.16" font-size="6.8" text-anchor="middle" fill="#c4650e" font-weight="bold" textLength="6.2" lengthAdjust="spacingAndGlyphs">10</text>
<rect x="163.20" y="452.78" width="4.58" height="3.60" fill="#595959"/>
<line x1="108.60" y1="454.58" x2="112.20" y2="454.58" stroke="#231f20" stroke-width="0.8"/>
<rect x="100.20" y="451.78" width="7.00" height="5.60" fill="#a9c0ec"/>
<text x="103.70" y="456.99" font-size="6.8" text-anchor="middle" fill="#1f3f9a" font-weight="bold" textLength="3.1" lengthAdjust="spacingAndGlyphs">7</text>
<rect x="163.20" y="460.61" width="4.39" height="3.60" fill="#595959"/>
<line x1="108.60" y1="462.41" x2="112.20" y2="462.41" stroke="#231f20" stroke-width="0.8"/>
<text x="103.70" y="464.81" font-size="6.8" text-anchor="middle" fill="#333" font-weight="bold" textLength="6.2" lengthAdjust="spacingAndGlyphs">26</text>
<rect x="163.20" y="468.45" width="3.84" height="3.60" fill="#595959"/>
<line x1="108.60" y1="470.25" x2="112.20" y2="470.25" stroke="#231f20" stroke-width="0.8"/>
<text x="103.70" y="472.65" font-size="6.8" text-anchor="middle" fill="#333" font-weight="bold" textLength="6.2" lengthAdjust="spacingAndGlyphs">13</text>
<rect x="163.20" y="476.28" width="3.29" height="3.60" fill="#595959"/>
<line x1="108.60" y1="478.08" x2="112.20" y2="478.08" stroke="#231f20" stroke-width="0.8"/>
<rect x="100.20" y="475.28" width="7.00" height="5.60" fill="#ee6d3e"/>
<text x="103.70" y="480.50" font-size="6.8" text-anchor="middle" fill="#5a1204" font-weight="bold" textLength="3.1" lengthAdjust="spacingAndGlyphs">2</text>
<rect x="163.20" y="484.12" width="0.92" height="3.60" fill="#595959"/>
<line x1="108.60" y1="485.92" x2="112.20" y2="485.92" stroke="#231f20" stroke-width="0.8"/>
<rect x="100.20" y="483.12" width="7.00" height="5.60" fill="#4cb872"/>
<text x="103.70" y="488.33" font-size="6.8" text-anchor="middle" fill="#0a3a14" font-weight="bold" textLength="3.1" lengthAdjust="spacingAndGlyphs">4</text>
<rect x="163.20" y="491.95" width="0.18" height="3.60" fill="#595959"/>
<line x1="108.60" y1="493.75" x2="112.20" y2="493.75" stroke="#231f20" stroke-width="0.8"/>
<text x="103.70" y="496.15" font-size="6.8" text-anchor="middle" fill="#333" font-weight="bold" textLength="6.2" lengthAdjust="spacingAndGlyphs">23</text>
<rect x="155.51" y="499.79" width="7.69" height="3.60" fill="#595959"/>
<line x1="108.60" y1="501.59" x2="112.20" y2="501.59" stroke="#231f20" stroke-width="0.8"/>
<text x="103.70" y="503.99" font-size="6.8" text-anchor="middle" fill="#333" font-weight="bold" textLength="6.2" lengthAdjust="spacingAndGlyphs">24</text>
<rect x="119.65" y="507.62" width="43.55" height="3.60" fill="#595959"/>
<line x1="108.60" y1="509.42" x2="112.20" y2="509.42" stroke="#231f20" stroke-width="0.8"/>
<text x="103.70" y="511.82" font-size="6.8" text-anchor="middle" fill="#333" font-weight="bold" textLength="6.2" lengthAdjust="spacingAndGlyphs">25</text>
<line x1="112.20" y1="389.60" x2="112.20" y2="512.70" stroke="#231f20" stroke-width="0.9"/>
<line x1="111.80" y1="512.30" x2="202.80" y2="512.30" stroke="#231f20" stroke-width="0.9"/>
<line x1="126.60" y1="512.30" x2="126.60" y2="515.00" stroke="#231f20" stroke-width="0.7"/>
<text x="130.00" y="524.60" font-size="6.4" text-anchor="middle" stroke="#231f20" stroke-width="0.14">−2</text>
<line x1="144.90" y1="512.30" x2="144.90" y2="515.00" stroke="#231f20" stroke-width="0.7"/>
<text x="148.50" y="524.60" font-size="6.4" text-anchor="middle" stroke="#231f20" stroke-width="0.14">−1</text>
<line x1="163.20" y1="512.30" x2="163.20" y2="515.00" stroke="#231f20" stroke-width="0.7"/>
<text x="165.20" y="524.60" font-size="6.4" text-anchor="middle" stroke="#231f20" stroke-width="0.14">0</text>
<line x1="181.50" y1="512.30" x2="181.50" y2="515.00" stroke="#231f20" stroke-width="0.7"/>
<text x="183.50" y="524.60" font-size="6.4" text-anchor="middle" stroke="#231f20" stroke-width="0.14">1</text>
<line x1="199.80" y1="512.30" x2="199.80" y2="515.00" stroke="#231f20" stroke-width="0.7"/>
<text x="202.30" y="524.60" font-size="6.4" text-anchor="middle" stroke="#231f20" stroke-width="0.14">2</text>
<text x="94.40" y="452.00" font-size="6.4" text-anchor="middle" stroke="#231f20" stroke-width="0.14" transform="rotate(-90 94.40 452.00)" textLength="44" lengthAdjust="spacingAndGlyphs">RRMM patients</text>
<text x="157.80" y="534.60" font-size="6.6" text-anchor="middle" stroke="#231f20" stroke-width="0.14" textLength="86.5" lengthAdjust="spacingAndGlyphs">ICAM1 differential expression</text>
<text x="218.60" y="180.60" font-size="11.2" font-weight="bold">F</text>
<text x="330.40" y="190.40" font-size="6.7" text-anchor="middle" stroke="#231f20" stroke-width="0.14" textLength="26.5" lengthAdjust="spacingAndGlyphs">RRMM15</text>
<text x="330.00" y="200.60" font-size="6.7" text-anchor="middle" stroke="#231f20" stroke-width="0.14" textLength="82" lengthAdjust="spacingAndGlyphs">chr19, 10240834–10300835</text>
<text x="0" y="0" font-size="6.6" transform="translate(255.8,204.2) rotate(-47)">Timepoint</text>
<text x="230.00" y="224.90" font-size="6.9" text-anchor="middle" stroke="#231f20" stroke-width="0.14" transform="rotate(-90 230.00 224.90)" textLength="30" lengthAdjust="spacingAndGlyphs">Coverage</text>
<text x="237.90" y="225.10" font-size="5.3" text-anchor="middle" stroke="#231f20" stroke-width="0.14" transform="rotate(-90 237.90 225.10)" textLength="63" lengthAdjust="spacingAndGlyphs">(Norm. ATAC signal range</text>
<text x="244.20" y="225.20" font-size="5.3" text-anchor="middle" stroke="#231f20" stroke-width="0.14" transform="rotate(-90 244.20 225.20)" textLength="45" lengthAdjust="spacingAndGlyphs">(0-0.08) by nFrags)</text>
<text x="229.80" y="263.90" font-size="6.9" text-anchor="middle" stroke="#231f20" stroke-width="0.14" transform="rotate(-90 229.80 263.90)" textLength="16" lengthAdjust="spacingAndGlyphs">Peaks</text>
<text x="229.80" y="309.20" font-size="6.9" text-anchor="middle" stroke="#231f20" stroke-width="0.14" transform="rotate(-90 229.80 309.20)" textLength="47" lengthAdjust="spacingAndGlyphs">Co-accessibility</text>
<rect x="251.30" y="207.00" width="9.50" height="18.40" fill="#c9c9c9"/>
<rect x="251.30" y="225.40" width="9.50" height="18.40" fill="#9b9b9b"/>
<text x="256.00" y="218.40" font-size="6.4" text-anchor="middle" fill="#555" stroke="#555" stroke-width="0.14">T1</text>
<text x="256.00" y="236.80" font-size="6.4" text-anchor="middle" fill="#3a3a3a" stroke="#3a3a3a" stroke-width="0.14">T2</text>
<rect x="251.80" y="283.20" width="8.90" height="26.20" fill="#cfcfcf"/>
<rect x="251.80" y="309.40" width="8.90" height="24.80" fill="#9b9b9b"/>
<text x="256.20" y="298.60" font-size="6.4" text-anchor="middle" fill="#555" stroke="#555" stroke-width="0.14">T1</text>
<text x="256.20" y="324.20" font-size="6.4" text-anchor="middle" fill="#3a3a3a" stroke="#3a3a3a" stroke-width="0.14">T2</text>
<rect x="327.20" y="207.00" width="2.80" height="37.00" fill="#e6eef7"/>
<rect x="327.20" y="244.00" width="2.80" height="90.50" fill="#e8eff8"/>
<line x1="328.20" y1="334.00" x2="328.20" y2="358.00" stroke="#c9d6ee" stroke-width="0.9"/>
<line x1="260.80" y1="225.20" x2="399.00" y2="225.20" stroke="#d8d8d8" stroke-width="0.5"/>
<line x1="260.80" y1="243.60" x2="399.00" y2="243.60" stroke="#d8d8d8" stroke-width="0.5"/>
<path d="M261.10,225.20 L262.15,223.16 L262.65,223.16 L263.70,225.20 Z" fill="#e4e6ec" stroke="none" stroke-width="0.8"/>
<path d="M261.80,225.20 L262.15,221.50 L262.65,221.50 L263.00,225.20 Z" fill="#b8bdc8" stroke="none" stroke-width="0.8"/>
<path d="M272.75,225.20 L274.45,218.10 L274.95,218.10 L276.65,225.20 Z" fill="#e4e6ec" stroke="none" stroke-width="0.8"/>
<path d="M273.80,225.20 L274.45,212.30 L274.95,212.30 L275.60,225.20 Z" fill="#b8bdc8" stroke="none" stroke-width="0.8"/>
<path d="M280.44,225.20 L281.75,221.51 L282.25,221.51 L283.56,225.20 Z" fill="#e4e6ec" stroke="none" stroke-width="0.8"/>
<path d="M281.28,225.20 L281.75,218.50 L282.25,218.50 L282.72,225.20 Z" fill="#b8bdc8" stroke="none" stroke-width="0.8"/>
<path d="M288.96,225.20 L289.75,223.72 L290.25,223.72 L291.04,225.20 Z" fill="#e4e6ec" stroke="none" stroke-width="0.8"/>
<path d="M289.52,225.20 L289.75,222.50 L290.25,222.50 L290.48,225.20 Z" fill="#b8bdc8" stroke="none" stroke-width="0.8"/>
<path d="M301.68,225.20 L303.25,215.63 L303.75,215.63 L305.32,225.20 Z" fill="#e4e6ec" stroke="none" stroke-width="0.8"/>
<path d="M302.66,225.20 L303.25,207.80 L303.75,207.80 L304.34,225.20 Z" fill="#b8bdc8" stroke="none" stroke-width="0.8"/>
<path d="M312.20,225.20 L313.25,222.34 L313.75,222.34 L314.80,225.20 Z" fill="#e4e6ec" stroke="none" stroke-width="0.8"/>
<path d="M312.90,225.20 L313.25,220.00 L313.75,220.00 L314.10,225.20 Z" fill="#b8bdc8" stroke="none" stroke-width="0.8"/>
<path d="M327.00,225.20 L329.35,217.12 L329.85,217.12 L332.20,225.20 Z" fill="#e4e6ec" stroke="none" stroke-width="0.8"/>
<path d="M328.40,225.20 L329.35,210.50 L329.85,210.50 L330.80,225.20 Z" fill="#b8bdc8" stroke="none" stroke-width="0.8"/>
<path d="M338.96,225.20 L339.75,224.26 L340.25,224.26 L341.04,225.20 Z" fill="#e4e6ec" stroke="none" stroke-width="0.8"/>
<path d="M339.52,225.20 L339.75,223.50 L340.25,223.50 L340.48,225.20 Z" fill="#b8bdc8" stroke="none" stroke-width="0.8"/>
<path d="M350.44,225.20 L351.75,222.62 L352.25,222.62 L353.56,225.20 Z" fill="#e4e6ec" stroke="none" stroke-width="0.8"/>
<path d="M351.28,225.20 L351.75,220.50 L352.25,220.50 L352.72,225.20 Z" fill="#b8bdc8" stroke="none" stroke-width="0.8"/>
<path d="M354.24,225.20 L355.55,222.06 L356.05,222.06 L357.36,225.20 Z" fill="#e4e6ec" stroke="none" stroke-width="0.8"/>
<path d="M355.08,225.20 L355.55,219.50 L356.05,219.50 L356.52,225.20 Z" fill="#b8bdc8" stroke="none" stroke-width="0.8"/>
<path d="M358.30,225.20 L359.35,222.89 L359.85,222.89 L360.90,225.20 Z" fill="#e4e6ec" stroke="none" stroke-width="0.8"/>
<path d="M359.00,225.20 L359.35,221.00 L359.85,221.00 L360.20,225.20 Z" fill="#b8bdc8" stroke="none" stroke-width="0.8"/>
<path d="M362.70,225.20 L363.75,222.06 L364.25,222.06 L365.30,225.20 Z" fill="#e4e6ec" stroke="none" stroke-width="0.8"/>
<path d="M363.40,225.20 L363.75,219.50 L364.25,219.50 L364.60,225.20 Z" fill="#b8bdc8" stroke="none" stroke-width="0.8"/>
<path d="M390.44,225.20 L391.75,219.81 L392.25,219.81 L393.56,225.20 Z" fill="#e4e6ec" stroke="none" stroke-width="0.8"/>
<path d="M391.28,225.20 L391.75,215.40 L392.25,215.40 L392.72,225.20 Z" fill="#b8bdc8" stroke="none" stroke-width="0.8"/>
<path d="M261.10,243.60 L262.15,240.52 L262.65,240.52 L263.70,243.60 Z" fill="#d6d9e0" stroke="none" stroke-width="0.8"/>
<path d="M261.80,243.60 L262.15,238.00 L262.65,238.00 L263.00,243.60 Z" fill="#7c8496" stroke="none" stroke-width="0.8"/>
<path d="M272.75,243.60 L274.45,236.56 L274.95,236.56 L276.65,243.60 Z" fill="#d6d9e0" stroke="none" stroke-width="0.8"/>
<path d="M273.80,243.60 L274.45,230.80 L274.95,230.80 L275.60,243.60 Z" fill="#7c8496" stroke="none" stroke-width="0.8"/>
<path d="M280.40,243.60 L281.45,241.45 L281.95,241.45 L283.00,243.60 Z" fill="#d6d9e0" stroke="none" stroke-width="0.8"/>
<path d="M281.10,243.60 L281.45,239.70 L281.95,239.70 L282.30,243.60 Z" fill="#7c8496" stroke="none" stroke-width="0.8"/>
<path d="M301.68,243.60 L303.25,234.47 L303.75,234.47 L305.32,243.60 Z" fill="#d6d9e0" stroke="none" stroke-width="0.8"/>
<path d="M302.66,243.60 L303.25,227.00 L303.75,227.00 L304.34,243.60 Z" fill="#7c8496" stroke="none" stroke-width="0.8"/>
<path d="M312.20,243.60 L313.25,241.07 L313.75,241.07 L314.80,243.60 Z" fill="#d6d9e0" stroke="none" stroke-width="0.8"/>
<path d="M312.90,243.60 L313.25,239.00 L313.75,239.00 L314.10,243.60 Z" fill="#7c8496" stroke="none" stroke-width="0.8"/>
<path d="M326.74,243.60 L329.35,237.22 L329.85,237.22 L332.46,243.60 Z" fill="#d6d9e0" stroke="none" stroke-width="0.8"/>
<path d="M328.28,243.60 L329.35,232.00 L329.85,232.00 L330.92,243.60 Z" fill="#7c8496" stroke="none" stroke-width="0.8"/>
<path d="M350.96,243.60 L351.75,242.17 L352.25,242.17 L353.04,243.60 Z" fill="#d6d9e0" stroke="none" stroke-width="0.8"/>
<path d="M351.52,243.60 L351.75,241.00 L352.25,241.00 L352.48,243.60 Z" fill="#7c8496" stroke="none" stroke-width="0.8"/>
<path d="M354.24,243.60 L355.55,239.97 L356.05,239.97 L357.36,243.60 Z" fill="#d6d9e0" stroke="none" stroke-width="0.8"/>
<path d="M355.08,243.60 L355.55,237.00 L356.05,237.00 L356.52,243.60 Z" fill="#7c8496" stroke="none" stroke-width="0.8"/>
<path d="M358.30,243.60 L359.35,241.34 L359.85,241.34 L360.90,243.60 Z" fill="#d6d9e0" stroke="none" stroke-width="0.8"/>
<path d="M359.00,243.60 L359.35,239.50 L359.85,239.50 L360.20,243.60 Z" fill="#7c8496" stroke="none" stroke-width="0.8"/>
<path d="M362.70,243.60 L363.75,242.17 L364.25,242.17 L365.30,243.60 Z" fill="#d6d9e0" stroke="none" stroke-width="0.8"/>
<path d="M363.40,243.60 L363.75,241.00 L364.25,241.00 L364.60,243.60 Z" fill="#7c8496" stroke="none" stroke-width="0.8"/>
<path d="M390.44,243.60 L391.75,237.77 L392.25,237.77 L393.56,243.60 Z" fill="#d6d9e0" stroke="none" stroke-width="0.8"/>
<path d="M391.28,243.60 L391.75,233.00 L392.25,233.00 L392.72,243.60 Z" fill="#7c8496" stroke="none" stroke-width="0.8"/>
<line x1="260.80" y1="244.30" x2="399.30" y2="244.30" stroke="#231f20" stroke-width="1.4"/>
<line x1="260.80" y1="273.00" x2="399.30" y2="273.00" stroke="#231f20" stroke-width="1.4"/>
<line x1="260.80" y1="282.80" x2="399.30" y2="282.80" stroke="#231f20" stroke-width="1.4"/>
<line x1="260.80" y1="309.20" x2="399.30" y2="309.20" stroke="#231f20" stroke-width="1.4"/>
<line x1="260.80" y1="334.20" x2="399.30" y2="334.20" stroke="#231f20" stroke-width="1.4"/>
<line x1="260.80" y1="243.60" x2="260.80" y2="334.90" stroke="#231f20" stroke-width="1.4"/>
<line x1="399.30" y1="205.00" x2="399.30" y2="334.90" stroke="#231f20" stroke-width="1.4"/>
<rect x="271.00" y="247.55" width="2.40" height="1.90" fill="#f2a640"/>
<rect x="273.70" y="247.55" width="2.40" height="1.90" fill="#f2a640"/>
<rect x="299.60" y="247.55" width="2.40" height="1.90" fill="#f2a640"/>
<rect x="302.10" y="247.55" width="2.40" height="1.90" fill="#f2a640"/>
<rect x="326.80" y="247.55" width="2.40" height="1.90" fill="#f2a640"/>
<rect x="349.20" y="247.55" width="2.40" height="1.90" fill="#f2a640"/>
<rect x="354.60" y="247.55" width="2.40" height="1.90" fill="#f2a640"/>
<rect x="391.50" y="247.55" width="2.40" height="1.90" fill="#f2a640"/>
<rect x="280.80" y="254.85" width="2.40" height="1.90" fill="#a83240"/>
<rect x="289.80" y="254.85" width="2.40" height="1.90" fill="#a83240"/>
<rect x="321.20" y="254.85" width="2.40" height="1.90" fill="#a83240"/>
<rect x="369.60" y="254.85" width="2.40" height="1.90" fill="#a83240"/>
<rect x="261.50" y="262.55" width="2.40" height="1.90" fill="#26325e"/>
<rect x="312.30" y="262.55" width="2.40" height="1.90" fill="#26325e"/>
<rect x="329.20" y="262.55" width="2.40" height="1.90" fill="#26325e"/>
<rect x="334.30" y="262.55" width="2.40" height="1.90" fill="#26325e"/>
<rect x="351.80" y="262.55" width="2.40" height="1.90" fill="#26325e"/>
<rect x="331.20" y="269.85" width="2.40" height="1.90" fill="#3aa845"/>
<rect x="338.80" y="269.85" width="2.40" height="1.90" fill="#3aa845"/>
<rect x="342.30" y="269.85" width="2.40" height="1.90" fill="#3aa845"/>
<rect x="358.80" y="269.85" width="2.40" height="1.90" fill="#3aa845"/>
<rect x="363.50" y="269.85" width="2.40" height="1.90" fill="#3aa845"/>
<rect x="379.20" y="269.85" width="2.40" height="1.90" fill="#3aa845"/>
<rect x="262.15" y="277.50" width="1.10" height="1.60" fill="#bbb"/>
<rect x="274.35" y="277.50" width="1.10" height="1.60" fill="#555"/>
<rect x="281.45" y="277.50" width="1.10" height="1.60" fill="#aaa"/>
<rect x="300.45" y="277.50" width="1.10" height="1.60" fill="#bbb"/>
<rect x="303.95" y="277.50" width="1.10" height="1.60" fill="#aaa"/>
<rect x="329.05" y="277.50" width="1.10" height="1.60" fill="#444"/>
<rect x="354.45" y="277.50" width="1.10" height="1.60" fill="#bbb"/>
<rect x="357.95" y="277.50" width="1.10" height="1.60" fill="#bbb"/>
<rect x="363.45" y="277.50" width="1.10" height="1.60" fill="#bbb"/>
<rect x="391.45" y="277.50" width="1.10" height="1.60" fill="#999"/>
<text x="401.70" y="251.00" font-size="6.9" stroke="#231f20" stroke-width="0.14" textLength="26.7" lengthAdjust="spacingAndGlyphs">Promoter</text>
<text x="401.70" y="258.00" font-size="6.9" stroke="#231f20" stroke-width="0.14" textLength="15.8" lengthAdjust="spacingAndGlyphs">Distal</text>
<text x="401.70" y="265.40" font-size="6.9" stroke="#231f20" stroke-width="0.14" textLength="18.4" lengthAdjust="spacingAndGlyphs">Exonic</text>
<text x="401.70" y="272.50" font-size="6.9" stroke="#231f20" stroke-width="0.14" textLength="21.6" lengthAdjust="spacingAndGlyphs">Intronic</text>
<text x="401.70" y="280.50" font-size="6.9" stroke="#231f20" stroke-width="0.14" textLength="40.3" lengthAdjust="spacingAndGlyphs">IRF4 ChIP-seq</text>
<path d="M340.00,283.40 C340.00,313.46 364.50,313.46 364.50,283.40" fill="none" stroke="#6e2f96" stroke-width="1.0"/>
<path d="M262.00,310.00 C262.00,326.62 391.00,326.62 391.00,310.00" fill="none" stroke="#7a3a9a" stroke-width="0.9"/>
<path d="M301.00,310.00 C301.00,340.59 364.50,340.59 364.50,310.00" fill="none" stroke="#6a2a8a" stroke-width="1.0"/>
<path d="M322.50,310.00 C322.50,325.96 381.50,325.96 381.50,310.00" fill="none" stroke="#6a2a8a" stroke-width="0.9"/>
<path d="M338.00,310.00 C338.00,322.63 392.00,322.63 392.00,310.00" fill="none" stroke="#8a4aaa" stroke-width="0.8"/>
<path d="M262.00,310.00 C262.00,321.70 345.00,321.70 345.00,310.00" fill="none" stroke="#2e1740" stroke-width="1.1"/>
<path d="M326.00,310.00 C326.00,317.31 333.00,317.31 333.00,310.00" fill="none" stroke="#4a2070" stroke-width="0.9"/>
<path d="M331.00,310.00 C331.00,321.97 335.00,321.97 335.00,310.00" fill="none" stroke="#3e1a60" stroke-width="0.9"/>
<path d="M336.50,310.00 C336.50,320.64 340.00,320.64 340.00,310.00" fill="none" stroke="#4a2070" stroke-width="0.9"/>
<text x="402.80" y="291.40" font-size="6.9" stroke="#231f20" stroke-width="0.14">Peak</text>
<text x="402.80" y="299.40" font-size="6.9" stroke="#231f20" stroke-width="0.14" textLength="45" lengthAdjust="spacingAndGlyphs">Co-accessibility</text>
<defs><linearGradient id="cg" x1="0" x2="1"><stop offset="0" stop-color="#a6cce8"/><stop offset="0.3" stop-color="#4f67c4"/><stop offset="0.6" stop-color="#6a2c9a"/><stop offset="1" stop-color="#2a0a3e"/></linearGradient><linearGradient id="gg" x1="0" x2="1"><stop offset="0" stop-color="#d2e2f6"/><stop offset="0.18" stop-color="#8fb0e8"/><stop offset="0.45" stop-color="#3050c8"/><stop offset="0.68" stop-color="#5a2aa0"/><stop offset="1" stop-color="#1e0a3a"/></linearGradient></defs>
<rect x="403.00" y="302.30" width="6.50" height="6.20" fill="#a9cbe9" rx="2.2"/>
<rect x="409.20" y="302.30" width="6.50" height="6.20" fill="#5f7fd0" rx="2.2"/>
<rect x="415.40" y="302.30" width="6.50" height="6.20" fill="#6b2fa0" rx="2.2"/>
<rect x="421.60" y="302.30" width="6.50" height="6.20" fill="#2e0b45" rx="2.2"/>
<text x="0" y="0" font-size="6.8" transform="translate(405.2,322.6) rotate(-48)">0.00</text>
<text x="0" y="0" font-size="6.8" transform="translate(419.3,322.6) rotate(-48)">0.20</text>
<text x="417.00" y="180.80" font-size="6.9" text-anchor="middle" stroke="#231f20" stroke-width="0.14">ICAM1</text>
<text x="417.00" y="188.60" font-size="6.9" text-anchor="middle" stroke="#231f20" stroke-width="0.14" textLength="31" lengthAdjust="spacingAndGlyphs">expression</text>
<text x="399.60" y="198.90" font-size="6.6" text-anchor="middle" stroke="#231f20" stroke-width="0.14">0</text>
<line x1="399.60" y1="202.20" x2="399.60" y2="205.50" stroke="#231f20" stroke-width="0.9"/>
<text x="410.90" y="198.90" font-size="6.6" text-anchor="middle" stroke="#231f20" stroke-width="0.14">1</text>
<line x1="410.90" y1="202.20" x2="410.90" y2="205.50" stroke="#231f20" stroke-width="0.9"/>
<text x="422.20" y="198.90" font-size="6.6" text-anchor="middle" stroke="#231f20" stroke-width="0.14">2</text>
<line x1="422.20" y1="202.20" x2="422.20" y2="205.50" stroke="#231f20" stroke-width="0.9"/>
<text x="433.50" y="198.90" font-size="6.6" text-anchor="middle" stroke="#231f20" stroke-width="0.14">3</text>
<line x1="433.50" y1="202.20" x2="433.50" y2="205.50" stroke="#231f20" stroke-width="0.9"/>
<line x1="399.00" y1="205.50" x2="435.80" y2="205.50" stroke="#231f20" stroke-width="1.0"/>
<line x1="399.80" y1="205.50" x2="399.80" y2="224.00" stroke="#231f20" stroke-width="1.0"/>
<line x1="399.80" y1="215.30" x2="431.60" y2="215.30" stroke="#231f20" stroke-width="0.9"/>
<path d="M400.2,215.3 L402.6,213.4 L402.6,217.2 Z" fill="#222" stroke="none" stroke-width="0.8"/>
<line x1="407.00" y1="207.00" x2="407.00" y2="223.50" stroke="#231f20" stroke-width="1.2"/>
<line x1="411.30" y1="207.00" x2="411.30" y2="223.50" stroke="#231f20" stroke-width="1.0"/>
<line x1="414.20" y1="207.00" x2="414.20" y2="223.50" stroke="#231f20" stroke-width="0.8"/>
<rect x="416.00" y="208.00" width="0.80" height="0.80" fill="#333"/>
<rect x="416.50" y="209.50" width="0.80" height="0.80" fill="#333"/>
<rect x="416.00" y="211.00" width="0.80" height="0.80" fill="#333"/>
<rect x="417.00" y="212.50" width="0.80" height="0.80" fill="#333"/>
<rect x="431.00" y="209.50" width="0.80" height="0.80" fill="#333"/>
<rect x="416.00" y="218.50" width="0.80" height="0.80" fill="#333"/>
<rect x="417.00" y="220.00" width="0.80" height="0.80" fill="#333"/>
<rect x="420.00" y="219.50" width="0.80" height="0.80" fill="#333"/>
<rect x="416.50" y="221.50" width="0.80" height="0.80" fill="#333"/>
<rect x="418.00" y="222.50" width="0.80" height="0.80" fill="#333"/>
<rect x="425.00" y="219.80" width="0.80" height="0.80" fill="#333"/>
<path d="M399.8,226.3 C401,229 401.5,231 401.8,233 L399.8,233 Z" fill="#222" stroke="none" stroke-width="0.8"/>
<rect x="399.80" y="233.00" width="5.20" height="4.40" fill="#9a9a9a" stroke="#222" stroke-width="0.6"/>
<circle cx="406.6" cy="235.2" r="2.1" fill="#222"/>
<path d="M406,234.0 L412,233.7 L418,234.4 L436.5,235.3 L418,236.2 L412,236.8 L406,236.5 Z" fill="#222" stroke="none" stroke-width="0.8"/>
<line x1="407.00" y1="226.50" x2="407.00" y2="243.50" stroke="#231f20" stroke-width="1.2"/>
<line x1="411.30" y1="226.50" x2="411.30" y2="243.50" stroke="#231f20" stroke-width="1.0"/>
<line x1="414.20" y1="226.50" x2="414.20" y2="243.50" stroke="#231f20" stroke-width="0.8"/>
<line x1="416.30" y1="226.50" x2="416.30" y2="243.50" stroke="#231f20" stroke-width="0.5"/>
<line x1="417.50" y1="226.50" x2="417.50" y2="243.50" stroke="#231f20" stroke-width="0.5"/>
<rect x="418.00" y="228.00" width="0.80" height="0.80" fill="#333"/>
<rect x="420.00" y="228.50" width="0.80" height="0.80" fill="#333"/>
<rect x="423.00" y="229.20" width="0.80" height="0.80" fill="#333"/>
<rect x="418.00" y="230.50" width="0.80" height="0.80" fill="#333"/>
<rect x="421.00" y="231.20" width="0.80" height="0.80" fill="#333"/>
<rect x="426.00" y="230.60" width="0.80" height="0.80" fill="#333"/>
<rect x="419.00" y="239.00" width="0.80" height="0.80" fill="#333"/>
<rect x="422.00" y="240.00" width="0.80" height="0.80" fill="#333"/>
<rect x="426.00" y="239.00" width="0.80" height="0.80" fill="#333"/>
<rect x="430.00" y="238.50" width="0.80" height="0.80" fill="#333"/>
<rect x="433.00" y="237.50" width="0.80" height="0.80" fill="#333"/>
<rect x="428.00" y="233.20" width="0.80" height="0.80" fill="#333"/>
<rect x="431.00" y="233.80" width="0.80" height="0.80" fill="#333"/>
<line x1="399.80" y1="237.40" x2="399.80" y2="244.20" stroke="#231f20" stroke-width="1.4"/>
<line x1="260.80" y1="345.10" x2="275.40" y2="345.10" stroke="#555" stroke-width="0.6"/>
<line x1="260.00" y1="352.40" x2="275.40" y2="352.40" stroke="#555" stroke-width="0.6"/>
<line x1="302.30" y1="352.40" x2="313.80" y2="352.40" stroke="#555" stroke-width="0.6" stroke-dasharray="1 0.8"/>
<line x1="327.70" y1="352.40" x2="350.00" y2="352.40" stroke="#bbb" stroke-width="0.6" stroke-dasharray="1 0.8"/>
<line x1="353.50" y1="338.40" x2="364.60" y2="338.40" stroke="#555" stroke-width="0.6"/>
<line x1="388.50" y1="338.40" x2="398.00" y2="338.40" stroke="#555" stroke-width="0.6"/>
<line x1="350.00" y1="345.30" x2="353.00" y2="345.30" stroke="#555" stroke-width="0.6"/>
<line x1="376.00" y1="345.10" x2="391.50" y2="345.10" stroke="#555" stroke-width="0.6"/>
<line x1="375.40" y1="352.40" x2="382.30" y2="352.40" stroke="#555" stroke-width="0.6"/>
<rect x="255.40" y="336.00" width="20.00" height="5.5" rx="1.3" fill="#fff" stroke="#231f20" stroke-width="1.1"/>
<text x="265.40" y="339.80" font-size="3.2" text-anchor="middle" fill="#777" stroke="#777" stroke-width="0.14">RAVER2-?</text>
<rect x="275.40" y="342.60" width="15.40" height="5.5" rx="1.3" fill="#fff" stroke="#231f20" stroke-width="1.1"/>
<text x="283.10" y="346.40" font-size="3.2" text-anchor="middle" fill="#777" stroke="#777" stroke-width="0.14">S1PR2</text>
<rect x="275.40" y="349.60" width="12.30" height="5.5" rx="1.3" fill="#fff" stroke="#231f20" stroke-width="1.1"/>
<text x="281.55" y="353.40" font-size="3.2" text-anchor="middle" fill="#777" stroke="#777" stroke-width="0.14">DNMT1</text>
<rect x="289.20" y="349.60" width="13.10" height="5.5" rx="1.3" fill="#fff" stroke="#231f20" stroke-width="1.1"/>
<text x="295.75" y="353.40" font-size="3.2" text-anchor="middle" fill="#777" stroke="#777" stroke-width="0.14">MRPL4</text>
<rect x="313.80" y="349.60" width="13.90" height="5.5" rx="1.3" fill="#fff" stroke="#4a4aa8" stroke-width="1.1"/>
<text x="320.75" y="353.40" font-size="3.2" text-anchor="middle" fill="#4a4aa8" stroke="#4a4aa8" stroke-width="0.14">ICAM1</text>
<rect x="337.70" y="335.70" width="15.80" height="5.5" rx="1.3" fill="#fff" stroke="#231f20" stroke-width="1.1"/>
<text x="345.60" y="339.50" font-size="3.2" text-anchor="middle" fill="#777" stroke="#777" stroke-width="0.14">ICAM4</text>
<rect x="333.50" y="342.60" width="16.50" height="5.5" rx="1.3" fill="#fff" stroke="#231f20" stroke-width="1.1"/>
<text x="341.75" y="346.40" font-size="3.2" text-anchor="middle" fill="#777" stroke="#777" stroke-width="0.14">ICAM5</text>
<rect x="370.80" y="335.90" width="17.70" height="5.5" rx="1.3" fill="#fff" stroke="#231f20" stroke-width="1.1"/>
<text x="379.65" y="339.70" font-size="3.2" text-anchor="middle" fill="#777" stroke="#777" stroke-width="0.14">RAVER1</text>
<rect x="391.50" y="342.40" width="16.20" height="5.5" rx="1.3" fill="#fff" stroke="#231f20" stroke-width="1.1"/>
<text x="399.60" y="346.20" font-size="3.2" text-anchor="middle" fill="#777" stroke="#777" stroke-width="0.14">FDX2</text>
<rect x="382.50" y="349.60" width="19.00" height="5.5" rx="1.3" fill="#fff" stroke="#231f20" stroke-width="1.1"/>
<text x="392.00" y="353.40" font-size="3.2" text-anchor="middle" fill="#777" stroke="#777" stroke-width="0.14">ZGLP1</text>
<text x="246.20" y="382.20" font-size="11.2" font-weight="bold">G</text>
<text x="334.60" y="390.80" font-size="6.7" text-anchor="middle" stroke="#231f20" stroke-width="0.14" textLength="26.2" lengthAdjust="spacingAndGlyphs">RRMM15</text>
<text x="385.40" y="399.80" font-size="6.7" text-anchor="end" stroke="#231f20" stroke-width="0.14" textLength="36" lengthAdjust="spacingAndGlyphs">mlog10 Padj</text>
<rect x="351.70" y="402.50" width="32.30" height="6.90" fill="url(#gg)"/>
<text x="352.20" y="408.40" font-size="7.0" fill="#1c2c80" stroke="#1c2c80" stroke-width="0.14" textLength="10.6" lengthAdjust="spacingAndGlyphs">low</text>
<text x="371.00" y="408.40" font-size="7.0" fill="#f2c0f0" stroke="#f2c0f0" stroke-width="0.14" textLength="11.0" lengthAdjust="spacingAndGlyphs">high</text>
<line x1="285.30" y1="412.30" x2="383.80" y2="412.30" stroke="#231f20" stroke-width="1.0"/>
<line x1="285.30" y1="411.80" x2="285.30" y2="512.80" stroke="#231f20" stroke-width="1.0"/>
<line x1="383.80" y1="411.80" x2="383.80" y2="512.80" stroke="#231f20" stroke-width="1.0"/>
<line x1="284.80" y1="512.30" x2="384.30" y2="512.30" stroke="#231f20" stroke-width="1.0"/>
<rect x="361.00" y="412.90" width="22.80" height="6.90" fill="#fff" stroke="#231f20" stroke-width="0.9"/>
<text x="372.30" y="418.90" font-size="7.0" text-anchor="middle" stroke="#231f20" stroke-width="0.14" textLength="20" lengthAdjust="spacingAndGlyphs">0 to 40</text>
<text x="365.80" y="429.40" font-size="7.2" text-anchor="middle" fill="#3b3aa0" stroke="#3b3aa0" stroke-width="0.14" textLength="31.3" lengthAdjust="spacingAndGlyphs">ICAM1 TFs</text>
<line x1="386.60" y1="414.50" x2="386.60" y2="510.50" stroke="#231f20" stroke-width="0.9"/>
<path d="M386.6,412.1 L384.9,415.8 L388.3,415.8 Z" fill="#231f20" stroke="none" stroke-width="0.8"/>
<path d="M386.6,513.4 L384.9,509.7 L388.3,509.7 Z" fill="#231f20" stroke="none" stroke-width="0.8"/>
<rect x="389.30" y="413.60" width="8.20" height="6.80" fill="#9a9a9a"/>
<text x="393.40" y="419.00" font-size="5.6" text-anchor="middle" fill="#2a2a2a" stroke="#2a2a2a" stroke-width="0.14">T2</text>
<rect x="389.30" y="503.60" width="8.10" height="7.60" fill="#dedede"/>
<text x="393.35" y="509.50" font-size="5.6" text-anchor="middle" fill="#444" stroke="#444" stroke-width="0.14">T1</text>
<line x1="282.60" y1="412.30" x2="285.30" y2="412.30" stroke="#231f20" stroke-width="0.7"/>
<text x="280.80" y="414.60" font-size="6.6" text-anchor="end" stroke="#231f20" stroke-width="0.14">60</text>
<line x1="282.60" y1="458.00" x2="285.30" y2="458.00" stroke="#231f20" stroke-width="0.7"/>
<text x="280.80" y="460.30" font-size="6.6" text-anchor="end" stroke="#231f20" stroke-width="0.14">30</text>
<line x1="282.60" y1="503.90" x2="285.30" y2="503.90" stroke="#231f20" stroke-width="0.7"/>
<text x="280.80" y="506.20" font-size="6.6" text-anchor="end" stroke="#231f20" stroke-width="0.14">0</text>
<line x1="295.30" y1="512.30" x2="295.30" y2="514.90" stroke="#231f20" stroke-width="0.7"/>
<text x="295.30" y="524.20" font-size="6.6" text-anchor="middle" stroke="#231f20" stroke-width="0.14">0</text>
<line x1="339.20" y1="512.30" x2="339.20" y2="514.90" stroke="#231f20" stroke-width="0.7"/>
<text x="339.20" y="524.20" font-size="6.6" text-anchor="middle" stroke="#231f20" stroke-width="0.14">100</text>
<line x1="383.30" y1="512.30" x2="383.30" y2="514.90" stroke="#231f20" stroke-width="0.7"/>
<text x="383.30" y="524.20" font-size="6.6" text-anchor="middle" stroke="#231f20" stroke-width="0.14">200</text>
<text x="334.70" y="535.00" font-size="6.7" text-anchor="middle" stroke="#231f20" stroke-width="0.14" textLength="64" lengthAdjust="spacingAndGlyphs">Rank sorted TF motifs</text>
<text x="269.40" y="462.40" font-size="6.4" text-anchor="middle" stroke="#231f20" stroke-width="0.14" transform="rotate(-90 269.40 462.40)" textLength="91" lengthAdjust="spacingAndGlyphs">−Log10(Padj) motif enrichment</text>
<line x1="296.90" y1="456.60" x2="297.60" y2="461.20" stroke="#2a1e5a" stroke-width="2.0" stroke-linecap="round"/>
<line x1="298.30" y1="464.80" x2="303.00" y2="473.00" stroke="#2b2266" stroke-width="2.4" stroke-linecap="round"/>
<line x1="303.00" y1="473.00" x2="306.00" y2="478.50" stroke="#2f3a88" stroke-width="2.4" stroke-linecap="round"/>
<line x1="306.00" y1="478.50" x2="308.40" y2="482.00" stroke="#3f5aa0" stroke-width="2.2" stroke-linecap="round"/>
<line x1="309.20" y1="484.60" x2="313.00" y2="490.80" stroke="#5f8cc8" stroke-width="2.4" stroke-linecap="round"/>
<line x1="313.00" y1="490.80" x2="316.20" y2="496.60" stroke="#9ab9de" stroke-width="2.4" stroke-linecap="round"/>
<path d="M316.2,496.6 C322,498.6 340,501.5 383,503.8" fill="none" stroke="#d3dce8" stroke-width="2.8" stroke-linecap="round"/>
<circle cx="295.8" cy="436.0" r="1.15" fill="#231f3f"/>
<circle cx="295.8" cy="444.8" r="1.15" fill="#231f3f"/>
<circle cx="296.5" cy="450.6" r="1.15" fill="#231f3f"/>
<line x1="296.20" y1="435.00" x2="299.00" y2="431.80" stroke="#231f20" stroke-width="0.7"/>
<line x1="296.30" y1="444.00" x2="299.60" y2="441.00" stroke="#231f20" stroke-width="0.7"/>
<line x1="296.80" y1="450.20" x2="299.60" y2="448.50" stroke="#231f20" stroke-width="0.7"/>
<line x1="297.40" y1="457.00" x2="300.40" y2="454.50" stroke="#231f20" stroke-width="0.7"/>
<line x1="298.60" y1="462.50" x2="301.80" y2="460.80" stroke="#231f20" stroke-width="0.7"/>
<line x1="299.60" y1="467.60" x2="303.60" y2="465.60" stroke="#231f20" stroke-width="0.7"/>
<line x1="301.20" y1="470.60" x2="306.60" y2="472.40" stroke="#231f20" stroke-width="0.7"/>
<text x="299.60" y="432.95" font-size="6.8" fill="#4f4cab" stroke="#4f4cab" stroke-width="0.14" textLength="15.4" lengthAdjust="spacingAndGlyphs">RELA</text>
<text x="301.00" y="442.35" font-size="6.8" stroke="#231f20" stroke-width="0.14" textLength="13.0" lengthAdjust="spacingAndGlyphs">IRF9</text>
<text x="301.00" y="449.45" font-size="6.8" stroke="#231f20" stroke-width="0.14" textLength="13.0" lengthAdjust="spacingAndGlyphs">IRF8</text>
<text x="302.10" y="456.15" font-size="6.8" stroke="#231f20" stroke-width="0.14" textLength="14.6" lengthAdjust="spacingAndGlyphs">ATF4</text>
<text x="302.90" y="462.55" font-size="6.8" stroke="#231f20" stroke-width="0.14" textLength="10.3" lengthAdjust="spacingAndGlyphs">REL</text>
<text x="304.60" y="468.85" font-size="6.8" stroke="#231f20" stroke-width="0.14" textLength="13.4" lengthAdjust="spacingAndGlyphs">IRF7</text>
<text x="307.90" y="475.15" font-size="6.8" fill="#4f4cab" stroke="#4f4cab" stroke-width="0.14" textLength="24.3" lengthAdjust="spacingAndGlyphs">STAT1/2</text>
<text x="290.40" y="481.55" font-size="6.8" fill="#6a64c0" stroke="#6a64c0" stroke-width="0.14" textLength="12.5" lengthAdjust="spacingAndGlyphs">IRF4</text>
</svg></div></body></html>
